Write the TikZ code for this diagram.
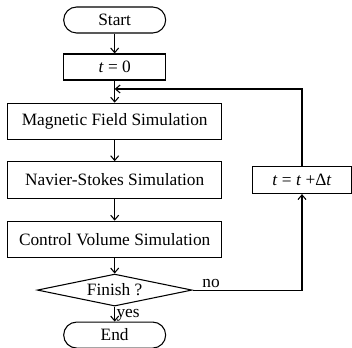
\documentclass[tikz,border=0pt]{standalone}
\usepackage{fontspec}
\setmainfont{Liberation Serif}
\usetikzlibrary{shapes.geometric,arrows.meta}

\begin{document}
\begin{tikzpicture}[>={Straight Barb[length=3.5pt,width=6pt]},font=\fontsize{13}{15}\selectfont]
    \tikzstyle{every path} = [line width=0.8pt];
    \tikzstyle{terminal} = [draw,rectangle,rounded corners=9.75pt,minimum width=76.5pt,minimum height=19.5pt,inner sep=0pt];
    \tikzstyle{process} = [draw,rectangle,minimum width=160.5pt,minimum height=27.5pt,inner sep=0pt];
    \tikzstyle{decision} = [draw,diamond,aspect=4.8,minimum width=116pt,minimum height=24pt,inner sep=0pt];

    \path[use as bounding box] (0pt,0pt) rectangle (264pt,-261pt);

    \node[terminal] (start) at (86pt,-15pt) {Start};
    \node[process,minimum width=76.5pt,minimum height=19.5pt] (init) [below of=start, node distance=35.25pt] {\textit{t} = 0};
    \coordinate[below of=init, node distance=16.5pt] (join);
    \node[process] (mag) [below of=init, node distance=40.9pt] {Magnetic Field Simulation};
    \node[process] (nav) [below of=mag, node distance=43.9pt] {Navier-Stokes Simulation};
    \node[process] (ctrl) [below of=nav, node distance=44.6pt] {Control Volume Simulation};
    \node[decision] (finish) [below of=ctrl, node distance=37.9pt] {Finish ?};
    \node[terminal] (end) [below of=finish, node distance=33.75pt] {End};
    \node[process,minimum width=74.25pt,minimum height=20.25pt] (upd) [right of=nav, node distance=140.5pt] {\textit{t} = \textit{t} +Δ\textit{t}};

    \draw[->] (start) -- (init);
    \draw[->] (init) -- (mag);
    \draw[->] (mag) -- (nav);
    \draw[->] (nav) -- (ctrl);
    \draw[->] (ctrl) -- (finish);
    \draw[->] (finish) -- node[right,inner sep=1pt,yshift=-1pt] {yes} (end);
    \draw[->] (finish.east) -- node[above,pos=0.17,inner sep=1.5pt] {no} (finish.east -| upd) -- (upd.south);
    \draw[->] (upd.north) |- (join);

\end{tikzpicture}
\end{document}
